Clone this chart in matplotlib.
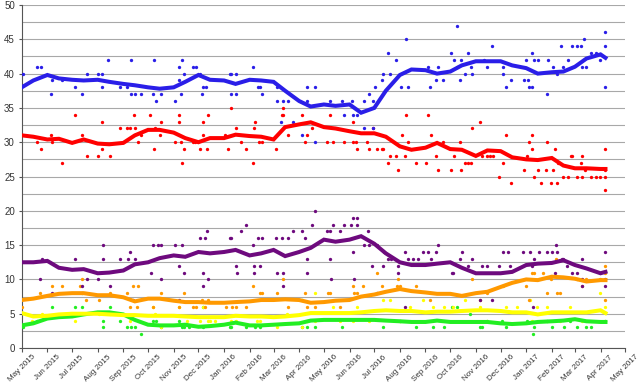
import matplotlib
matplotlib.use("Agg")
import matplotlib.pyplot as plt
import matplotlib.dates as mdates
import pandas as pd

plt.rcParams['font.family'] = ['Liberation Sans', 'DejaVu Sans']

# trend lines (rolling average), sampled on the 1st and 15th of each month
trend_dates = ['2015-05-01', '2015-05-15', '2015-06-01', '2015-06-15', '2015-07-01', '2015-07-15',
               '2015-08-01', '2015-08-15', '2015-09-01', '2015-09-15', '2015-10-01', '2015-10-15',
               '2015-11-01', '2015-11-15', '2015-12-01', '2015-12-15', '2016-01-01', '2016-01-15',
               '2016-02-01', '2016-02-15', '2016-03-01', '2016-03-15', '2016-04-01', '2016-04-15',
               '2016-05-01', '2016-05-15', '2016-06-01', '2016-06-15', '2016-07-01', '2016-07-15',
               '2016-08-01', '2016-08-15', '2016-09-01', '2016-09-15', '2016-10-01', '2016-10-15',
               '2016-11-01', '2016-11-15', '2016-12-01', '2016-12-15', '2017-01-01', '2017-01-15',
               '2017-02-01', '2017-02-15', '2017-03-01', '2017-03-15', '2017-04-01', '2017-04-07']
con_trend = [38.0, 39.0, 39.8, 39.3, 39.1, 39.0, 39.1, 38.8, 38.5, 38.3, 38.0, 37.8,
             38.0, 38.8, 39.8, 39.1, 39.0, 38.5, 39.1, 39.0, 38.8, 37.5, 36.0, 35.2,
             35.5, 35.3, 35.5, 34.3, 35.0, 37.5, 39.8, 40.6, 40.5, 40.0, 40.3, 41.2,
             41.8, 41.8, 41.8, 41.2, 40.8, 40.0, 40.2, 40.3, 41.0, 42.2, 42.8, 42.3]
lab_trend = [31.0, 30.8, 30.4, 30.5, 29.9, 30.4, 29.8, 29.7, 29.9, 31.0, 31.8, 31.8,
             31.4, 30.6, 30.0, 30.6, 30.6, 31.1, 30.9, 30.8, 30.4, 32.2, 32.6, 32.9,
             32.2, 32.0, 31.6, 31.3, 31.3, 30.8, 29.4, 28.9, 29.2, 29.9, 29.0, 28.9,
             28.0, 28.8, 28.7, 27.8, 27.5, 27.4, 27.7, 26.6, 26.2, 26.2, 26.1, 26.1]
ukip_trend = [12.5, 12.5, 12.7, 11.7, 11.4, 11.5, 10.9, 11.0, 11.3, 12.2, 12.5, 13.1,
              13.5, 13.3, 14.0, 13.8, 14.0, 14.3, 13.5, 13.8, 14.3, 13.4, 14.0, 14.6,
              15.8, 15.5, 15.8, 16.3, 15.2, 13.8, 12.5, 12.1, 12.1, 12.3, 12.5, 11.7,
              10.9, 10.9, 10.9, 11.1, 12.1, 12.3, 12.4, 12.8, 12.1, 11.6, 10.9, 11.1]
ld_trend = [7.0, 7.2, 7.6, 7.9, 8.0, 8.0, 7.7, 7.7, 7.4, 6.8, 7.2, 7.2,
            6.9, 6.7, 6.7, 6.6, 6.6, 6.7, 6.8, 7.0, 7.0, 7.1, 7.0, 6.6,
            6.7, 6.9, 7.0, 7.5, 7.8, 8.2, 8.6, 8.3, 8.1, 7.9, 7.9, 7.6,
            8.0, 8.2, 8.9, 9.5, 10.0, 9.9, 10.4, 10.3, 10.1, 9.7, 9.9, 9.9]
snp_trend = [5.1, 4.6, 4.7, 4.9, 5.0, 5.0, 5.0, 4.9, 4.8, 4.8, 4.7, 4.7,
             4.7, 4.6, 4.5, 4.5, 4.5, 4.7, 4.6, 4.6, 4.5, 4.6, 4.8, 5.1,
             5.1, 5.1, 5.1, 5.2, 5.4, 5.5, 5.4, 5.4, 5.2, 5.3, 5.3, 5.4,
             5.5, 5.5, 5.4, 5.2, 5.2, 4.9, 5.2, 5.2, 5.2, 5.2, 5.5, 5.1]
grn_trend = [3.3, 3.6, 4.3, 4.5, 4.6, 4.9, 5.2, 5.2, 4.9, 4.1, 3.4, 3.3,
             3.3, 3.4, 3.1, 3.2, 3.4, 3.7, 3.3, 3.3, 3.4, 3.5, 3.6, 4.0,
             4.1, 4.1, 4.1, 4.1, 4.1, 4.0, 3.9, 3.8, 3.8, 4.0, 3.8, 3.8,
             3.8, 3.8, 3.6, 3.5, 3.6, 3.8, 3.9, 4.0, 4.2, 3.9, 3.8, 3.8]

# individual polls
con_dates = ['2015-05-02', '2015-05-19', '2015-05-24', '2015-06-06', '2015-06-07', '2015-06-19',
             '2015-07-04', '2015-07-13', '2015-07-19', '2015-08-01', '2015-08-06', '2015-08-06',
             '2015-08-14', '2015-08-28', '2015-09-05', '2015-09-10', '2015-09-10', '2015-09-15',
             '2015-09-23', '2015-10-08', '2015-10-07', '2015-10-11', '2015-10-17', '2015-11-03',
             '2015-11-07', '2015-11-08', '2015-11-10', '2015-11-11', '2015-11-14', '2015-11-24',
             '2015-11-28', '2015-12-03', '2015-12-05', '2015-12-06', '2015-12-10', '2016-01-08',
             '2016-01-10', '2016-01-16', '2016-01-09', '2016-01-16', '2016-02-05', '2016-02-11',
             '2016-02-13', '2016-02-16', '2016-03-05', '2016-03-05', '2016-03-10', '2016-03-13',
             '2016-03-18', '2016-03-24', '2016-04-05', '2016-04-10', '2016-04-10', '2016-04-20',
             '2016-04-20', '2016-05-08', '2016-05-23', '2016-05-25', '2016-06-04', '2016-06-05',
             '2016-06-10', '2016-06-18', '2016-06-18', '2016-06-25', '2016-06-29', '2016-06-29',
             '2016-07-02', '2016-07-10', '2016-07-11', '2016-07-17', '2016-07-20', '2016-07-27',
             '2016-08-02', '2016-08-08', '2016-08-11', '2016-09-04', '2016-09-06', '2016-09-14',
             '2016-09-16', '2016-09-22', '2016-10-02', '2016-10-05', '2016-10-09', '2016-10-09',
             '2016-10-13', '2016-10-14', '2016-10-19', '2016-10-22', '2016-10-26', '2016-10-27',
             '2016-11-11', '2016-11-15', '2016-11-20', '2016-12-04', '2016-12-04', '2016-12-08',
             '2016-12-13', '2016-12-29', '2017-01-01', '2017-01-03', '2017-01-04', '2017-01-08',
             '2017-01-08', '2017-01-11', '2017-01-15', '2017-01-26', '2017-01-28', '2017-02-02',
             '2017-02-07', '2017-02-12', '2017-02-15', '2017-02-21', '2017-02-26', '2017-03-03',
             '2017-03-08', '2017-03-09', '2017-03-12', '2017-03-15', '2017-03-21', '2017-03-26',
             '2017-03-31', '2017-04-06', '2017-04-07', '2017-04-06']
con_polls = [40, 41, 41, 37, 39, 39, 38, 37, 40, 40, 40, 38,
             42, 38, 38, 42, 37, 37, 37, 42, 37, 36, 37, 36,
             39, 41, 37, 42, 40, 41, 41, 40, 37, 38, 38, 40,
             40, 40, 37, 37, 41, 38, 38, 37, 38, 36, 33, 36,
             36, 33, 31, 38, 36, 38, 30, 36, 36, 34, 36, 34,
             34, 36, 32, 37, 32, 36, 38, 39, 40, 43, 40, 42,
             38, 45, 38, 41, 38, 39, 41, 39, 43, 42, 47, 41,
             39, 42, 40, 43, 41, 40, 42, 41, 44, 41, 40, 38,
             39, 39, 42, 39, 38, 43, 38, 42, 42, 37, 42, 41,
             40, 44, 41, 42, 44, 44, 44, 41, 45, 41, 43, 43,
             42, 46, 44, 38]

lab_dates = ['2015-05-19', '2015-05-24', '2015-06-06', '2015-06-07', '2015-06-19', '2015-07-04',
             '2015-07-13', '2015-07-19', '2015-08-01', '2015-08-06', '2015-08-06', '2015-08-16',
             '2015-08-28', '2015-09-05', '2015-09-09', '2015-09-14', '2015-09-15', '2015-09-19',
             '2015-09-23', '2015-10-03', '2015-10-08', '2015-10-09', '2015-10-17', '2015-10-16',
             '2015-11-03', '2015-11-07', '2015-11-08', '2015-11-10', '2015-11-11', '2015-11-14',
             '2015-11-24', '2015-11-27', '2015-12-03', '2015-12-06', '2015-12-06', '2015-12-11',
             '2015-12-12', '2016-01-02', '2016-01-06', '2016-01-10', '2016-01-16', '2016-01-21',
             '2016-01-28', '2016-02-05', '2016-02-06', '2016-02-07', '2016-02-12', '2016-02-16',
             '2016-03-04', '2016-03-11', '2016-03-13', '2016-03-12', '2016-03-18', '2016-04-05',
             '2016-04-08', '2016-04-10', '2016-04-17', '2016-05-05', '2016-05-08', '2016-05-12',
             '2016-05-25', '2016-06-05', '2016-06-05', '2016-06-09', '2016-06-10', '2016-06-22',
             '2016-06-25', '2016-06-29', '2016-07-04', '2016-07-10', '2016-07-11', '2016-07-17',
             '2016-07-20', '2016-07-27', '2016-07-30', '2016-08-03', '2016-08-07', '2016-08-08',
             '2016-08-11', '2016-08-21', '2016-09-02', '2016-09-04', '2016-09-08', '2016-09-14',
             '2016-09-16', '2016-09-22', '2016-10-02', '2016-10-05', '2016-10-13', '2016-10-14',
             '2016-10-19', '2016-10-22', '2016-10-26', '2016-10-27', '2016-11-06', '2016-11-08',
             '2016-11-14', '2016-11-18', '2016-11-22', '2016-11-29', '2016-12-04', '2016-12-08',
             '2016-12-13', '2016-12-29', '2017-01-02', '2017-01-04', '2017-01-08', '2017-01-08',
             '2017-01-11', '2017-01-15', '2017-01-19', '2017-01-25', '2017-01-26', '2017-01-31',
             '2017-02-05', '2017-02-02', '2017-02-07', '2017-02-08', '2017-02-15', '2017-02-21',
             '2017-02-24', '2017-02-26', '2017-03-03', '2017-03-08', '2017-03-09', '2017-03-10',
             '2017-03-13', '2017-03-20', '2017-03-26', '2017-03-31', '2017-04-06', '2017-04-06',
             '2017-04-07', '2017-04-06']
lab_polls = [30, 29, 31, 30, 27, 34, 31, 28, 28, 33, 29, 28,
             32, 32, 32, 34, 32, 30, 31, 34, 29, 32, 33, 31,
             30, 33, 34, 30, 27, 29, 30, 30, 29, 33, 31, 29,
             34, 31, 29, 35, 32, 30, 29, 27, 32, 33, 30, 30,
             29, 34, 34, 35, 31, 34, 30, 31, 32, 30, 34, 30,
             30, 33, 30, 30, 29, 30, 29, 32, 29, 29, 29, 27,
             28, 28, 26, 31, 28, 34, 30, 27, 27, 34, 31, 28,
             26, 30, 26, 28, 30, 26, 27, 27, 27, 32, 33, 28,
             28, 28, 28, 25, 27, 31, 24, 26, 28, 30, 31, 29,
             25, 26, 24, 26, 30, 24, 29, 26, 24, 27, 25, 25,
             28, 28, 25, 27, 28, 25, 26, 25, 25, 25, 29, 25,
             23, 26]

ukip_dates = ['2015-05-26', '2015-05-23', '2015-06-07', '2015-07-04', '2015-07-13', '2015-07-19',
              '2015-08-01', '2015-08-07', '2015-08-07', '2015-08-16', '2015-08-28', '2015-09-07',
              '2015-09-09', '2015-09-13', '2015-09-15', '2015-10-04', '2015-10-07', '2015-10-13',
              '2015-10-17', '2015-10-17', '2015-11-03', '2015-11-08', '2015-11-11', '2015-11-14',
              '2015-11-07', '2015-12-06', '2015-12-06', '2015-12-12', '2015-12-03', '2015-12-09',
              '2015-12-11', '2016-01-08', '2016-01-10', '2016-01-16', '2016-01-17', '2016-01-21',
              '2016-01-28', '2016-02-05', '2016-02-06', '2016-02-06', '2016-02-11', '2016-02-13',
              '2016-02-16', '2016-03-04', '2016-03-05', '2016-03-11', '2016-03-12', '2016-03-13',
              '2016-03-18', '2016-03-24', '2016-04-05', '2016-04-08', '2016-04-10', '2016-04-10',
              '2016-04-16', '2016-04-20', '2016-05-05', '2016-05-08', '2016-05-08', '2016-05-09',
              '2016-05-12', '2016-05-21', '2016-05-25', '2016-06-03', '2016-06-05', '2016-06-05',
              '2016-06-06', '2016-06-10', '2016-06-10', '2016-06-18', '2016-06-23', '2016-06-25',
              '2016-06-28', '2016-07-04', '2016-07-04', '2016-07-11', '2016-07-13', '2016-07-17',
              '2016-07-21', '2016-07-30', '2016-07-30', '2016-08-07', '2016-08-07', '2016-08-11',
              '2016-08-17', '2016-08-23', '2016-08-29', '2016-09-04', '2016-09-08', '2016-09-14',
              '2016-09-16', '2016-10-03', '2016-10-04', '2016-10-13', '2016-10-15', '2016-10-22',
              '2016-10-27', '2016-11-06', '2016-11-09', '2016-11-15', '2016-11-20', '2016-11-29',
              '2016-12-04', '2016-12-10', '2016-12-12', '2016-12-28', '2017-01-05', '2017-01-08',
              '2017-01-09', '2017-01-11', '2017-01-17', '2017-01-26', '2017-02-01', '2017-02-05',
              '2017-02-06', '2017-02-07', '2017-02-13', '2017-02-14', '2017-02-20', '2017-02-26',
              '2017-03-03', '2017-03-09', '2017-03-09', '2017-03-10', '2017-04-06', '2017-04-06',
              '2017-04-06']
ukip_polls = [13, 10, 8, 13, 9, 10, 10, 15, 13, 9, 13, 13,
              14, 7, 13, 11, 15, 15, 15, 10, 15, 12, 15, 11,
              7, 11, 9, 10, 16, 16, 17, 16, 16, 12, 11, 17,
              18, 15, 12, 11, 16, 12, 16, 16, 11, 16, 11, 9,
              16, 17, 17, 16, 13, 11, 18, 20, 17, 17, 13, 10,
              18, 17, 18, 18, 19, 14, 10, 19, 18, 15, 17, 15,
              12, 15, 8, 12, 14, 13, 13, 12, 11, 14, 6, 13,
              13, 13, 14, 14, 13, 14, 15, 11, 11, 13, 14, 12,
              13, 7, 12, 12, 7, 12, 14, 14, 12, 14, 14, 12,
              6, 13, 14, 14, 14, 11, 15, 14, 13, 13, 12, 11,
              11, 13, 9, 10, 14, 10, 9]

ld_dates = ['2015-05-01', '2015-05-23', '2015-06-07', '2015-06-19', '2015-07-13', '2015-07-18',
            '2015-08-03', '2015-07-10', '2015-08-16', '2015-09-05', '2015-09-09', '2015-09-13',
            '2015-09-19', '2015-09-17', '2015-10-07', '2015-10-17', '2015-11-08', '2015-11-14',
            '2015-11-24', '2015-11-28', '2015-12-05', '2015-12-09', '2015-12-12', '2016-01-03',
            '2016-01-11', '2016-01-16', '2016-01-28', '2016-02-05', '2016-02-13', '2016-02-16',
            '2016-03-05', '2016-03-13', '2016-03-18', '2016-04-08', '2016-04-10', '2016-04-20',
            '2016-05-06', '2016-05-08', '2016-05-20', '2016-06-05', '2016-06-06', '2016-06-10',
            '2016-06-17', '2016-07-04', '2016-07-10', '2016-07-29', '2016-07-30', '2016-08-01',
            '2016-08-21', '2016-09-06', '2016-10-27', '2016-11-06', '2016-11-14', '2016-12-04',
            '2017-01-01', '2017-01-04', '2017-01-08', '2017-01-11', '2017-01-21', '2017-01-26',
            '2017-01-31', '2017-02-06', '2017-02-07', '2017-02-11', '2017-03-03', '2017-03-10',
            '2017-03-15', '2017-03-31', '2017-04-06', '2017-04-06', '2017-04-06']
ld_polls = [6, 8, 9, 9, 10, 7, 7, 9, 8, 8, 6, 9,
            9, 6, 6, 8, 6, 8, 6, 6, 7, 6, 7, 6,
            6, 6, 6, 9, 8, 8, 8, 10, 6, 8, 6, 6,
            8, 8, 6, 9, 8, 8, 9, 11, 9, 9, 10, 9,
            9, 7, 10, 7, 8, 9, 9, 7, 11, 11, 11, 8,
            10, 13, 8, 8, 10, 9, 10, 10, 12, 7, 11]

snp_dates = ['2015-05-14', '2015-05-26', '2015-07-04', '2015-07-10', '2015-08-03', '2015-08-16',
             '2015-09-09', '2015-10-07', '2015-10-09', '2015-10-17', '2015-11-08', '2015-11-17',
             '2015-12-03', '2015-12-06', '2015-12-12', '2015-12-15', '2015-12-21', '2016-01-10',
             '2016-01-16', '2016-02-10', '2016-02-13', '2016-03-05', '2016-03-17', '2016-04-05',
             '2016-04-10', '2016-04-20', '2016-04-20', '2016-05-12', '2016-05-20', '2016-06-05',
             '2016-06-10', '2016-06-25', '2016-07-11', '2016-07-20', '2016-08-01', '2016-08-13',
             '2016-08-29', '2016-09-10', '2016-09-24', '2016-10-04', '2016-10-19', '2016-11-06',
             '2016-11-15', '2016-12-08', '2016-12-21', '2017-01-05', '2017-01-08', '2017-01-14',
             '2017-01-26', '2017-02-11', '2017-02-23', '2017-03-10', '2017-03-31', '2017-04-06',
             '2017-04-06']
snp_polls = [4, 5, 4, 5, 5, 5, 4, 6, 5, 3, 6, 4,
             4, 6, 4, 4, 4, 4, 4, 4, 4, 3, 5, 3,
             4, 8, 4, 6, 4, 4, 6, 4, 7, 7, 4, 6,
             7, 6, 6, 6, 7, 6, 4, 6, 6, 7, 4, 6,
             6, 4, 6, 4, 8, 6, 4]

grn_dates = ['2015-05-02', '2015-05-19', '2015-06-07', '2015-07-04', '2015-07-13', '2015-07-13',
             '2015-08-07', '2015-08-07', '2015-08-16', '2015-08-28', '2015-09-05', '2015-09-10',
             '2015-09-15', '2015-09-23', '2015-10-07', '2015-10-11', '2015-10-17', '2015-11-08',
             '2015-11-11', '2015-11-14', '2015-11-20', '2015-12-06', '2015-12-06', '2016-01-08',
             '2016-01-10', '2016-01-28', '2016-02-07', '2016-02-13', '2016-04-05', '2016-04-05',
             '2016-04-10', '2016-04-20', '2016-05-23', '2016-07-11', '2016-08-01', '2016-08-21',
             '2016-09-10', '2016-09-24', '2016-10-03', '2016-10-09', '2016-10-25', '2016-11-06',
             '2016-11-08', '2016-11-14', '2016-12-03', '2016-12-08', '2017-01-02', '2017-01-09',
             '2017-01-11', '2017-01-26', '2017-02-01', '2017-02-16', '2017-02-23', '2017-03-03',
             '2017-03-15', '2017-03-21', '2017-04-06']
grn_polls = [3, 4, 6, 6, 8, 6, 4, 3, 6, 4, 3, 3,
             3, 2, 4, 4, 3, 4, 3, 3, 3, 6, 3, 3,
             3, 3, 3, 3, 7, 3, 3, 3, 3, 3, 4, 3,
             3, 3, 6, 6, 5, 3, 3, 4, 4, 3, 4, 2,
             3, 4, 3, 3, 4, 3, 3, 3, 4]

parties = [
    (grn_dates, grn_polls, grn_trend, '#22ee22'),
    (snp_dates, snp_polls, snp_trend, '#ffff00'),
    (ld_dates, ld_polls, ld_trend, '#ff9900'),
    (ukip_dates, ukip_polls, ukip_trend, '#6e0a7e'),
    (lab_dates, lab_polls, lab_trend, '#ff0000'),
    (con_dates, con_polls, con_trend, '#2a1ee8'),
]

fig = plt.figure(figsize=(6.4, 3.85), dpi=100)
ax = fig.add_axes([0.034, 0.096, 0.943, 0.891])

td = pd.to_datetime(trend_dates)
for dates, polls, trend, color in parties:
    ax.plot(pd.to_datetime(dates), polls, 'o', color=color, ms=2.4, mew=0, zorder=3)
for dates, polls, trend, color in parties:
    ax.plot(td, trend, color=color, lw=2.9, solid_joinstyle='miter', zorder=4)

ax.set_ylim(0, 50)
ax.set_xlim(pd.Timestamp('2015-05-01'), pd.Timestamp('2017-05-01'))
ax.set_yticks(range(0, 51, 5))
ax.set_yticks([v + 2.5 for v in range(0, 50, 5)], minor=True)
ax.yaxis.grid(True, which='both', color='#a8a8a8', lw=0.8)
ax.set_axisbelow(True)

ax.xaxis.set_major_locator(mdates.MonthLocator())
ax.xaxis.set_major_formatter(mdates.DateFormatter('%b %Y'))
plt.setp(ax.get_xticklabels(), rotation=45, ha='center')
ax.tick_params(axis='x', labelsize=5.8, length=3, color='#555555', labelcolor='#333333', pad=1)
ax.tick_params(axis='y', labelsize=7, length=2, color='#555555', labelcolor='#333333', pad=3)
ax.tick_params(axis='y', which='minor', length=0)

for s in ['top', 'right']:
    ax.spines[s].set_visible(False)
for s in ['left', 'bottom']:
    ax.spines[s].set_color('#555555')
    ax.spines[s].set_linewidth(0.8)

fig.savefig('out.png', dpi=100)
